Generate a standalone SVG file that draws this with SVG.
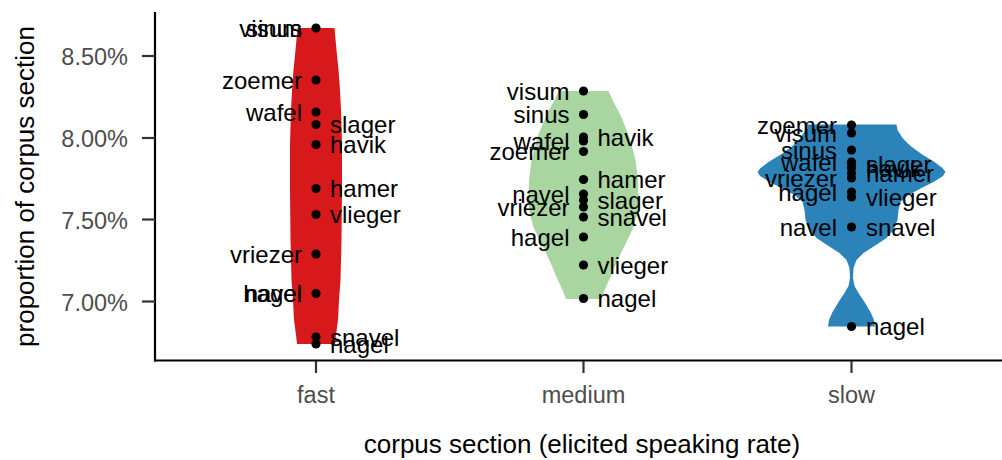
<svg xmlns="http://www.w3.org/2000/svg" width="1002" height="460" viewBox="0 0 1002 460">
<style>
text{font-family:"Liberation Sans",Arial,sans-serif}
.lab{font-size:24px;fill:#000}
.l{text-anchor:end}
.tk{font-size:23.5px;fill:#4D4D4D}
.ttl{font-size:26px;fill:#000;text-anchor:middle}
.ax{stroke:#000;stroke-width:2.2;fill:none}
.tick{stroke:#333;stroke-width:2.2}
.dot{fill:#000}
</style>
<rect width="1002" height="460" fill="#fff"/>
<g id="axes">
<line class="ax" x1="155" y1="12" x2="155" y2="361.5"/>
<line class="ax" x1="154" y1="360.5" x2="1002" y2="360.5"/>
<line class="tick" x1="142" y1="56" x2="155" y2="56"/>
<line class="tick" x1="142" y1="138" x2="155" y2="138"/>
<line class="tick" x1="142" y1="219.5" x2="155" y2="219.5"/>
<line class="tick" x1="142" y1="301.5" x2="155" y2="301.5"/>
<line class="tick" x1="316" y1="361" x2="316" y2="373"/>
<line class="tick" x1="583.5" y1="361" x2="583.5" y2="373"/>
<line class="tick" x1="851.5" y1="361" x2="851.5" y2="373"/>
<text class="tk" x="128" y="65" text-anchor="end">8.50%</text>
<text class="tk" x="128" y="147" text-anchor="end">8.00%</text>
<text class="tk" x="128" y="228.5" text-anchor="end">7.50%</text>
<text class="tk" x="128" y="310.5" text-anchor="end">7.00%</text>
<text class="tk" x="316" y="403" text-anchor="middle">fast</text>
<text class="tk" x="583.5" y="403" text-anchor="middle">medium</text>
<text class="tk" x="851.5" y="403" text-anchor="middle">slow</text>
<text class="ttl" x="582" y="453">corpus section (elicited speaking rate)</text>
<text class="ttl" transform="translate(34,186.5) rotate(-90)">proportion of corpus section</text>
</g>
<g id="fast">
<polygon fill="#D7191C" points="297.5,28 334.5,28 336.5,50 338.5,70 340,90 341,110 342,143 342,190 341.5,240 340.5,280 339,300 338,320 336,335 335,344 297,344 296,335 294,320 293,300 291.5,280 290.5,240 290,190 290,143 291,110 292,90 293.5,70 295.5,50"/>
<g class="dot">
<circle cx="316" cy="28" r="4.6"/><circle cx="316" cy="80" r="4.6"/><circle cx="316" cy="112" r="4.6"/><circle cx="316" cy="124.5" r="4.6"/><circle cx="316" cy="144.5" r="4.6"/><circle cx="316" cy="188.5" r="4.6"/><circle cx="316" cy="214.5" r="4.6"/><circle cx="316" cy="254" r="4.6"/><circle cx="316" cy="293.5" r="4.6"/><circle cx="316" cy="337" r="4.6"/><circle cx="316" cy="344" r="4.6"/>
</g>
<text class="lab l" x="302" y="36.5">visum</text>
<text class="lab l" x="302" y="36.5">sinus</text>
<text class="lab l" x="302" y="88.5">zoemer</text>
<text class="lab l" x="302" y="120.5">wafel</text>
<text class="lab l" x="302" y="262.5">vriezer</text>
<text class="lab l" x="302" y="302">hagel</text>
<text class="lab l" x="302" y="302">navel</text>
<text class="lab" x="330" y="133">slager</text>
<text class="lab" x="330" y="153">havik</text>
<text class="lab" x="330" y="197">hamer</text>
<text class="lab" x="330" y="223">vlieger</text>
<text class="lab" x="330" y="345.5">snavel</text>
<text class="lab" x="330" y="352.5">nagel</text>
</g>
<g id="medium">
<polygon fill="#A8D5A0" points="558.5,91 608.5,91 612.5,100 620.5,115 629.5,137 635.5,160 638,180 638.5,203 637,215 633.5,227 627.5,240 621,253 615.5,265 610.5,277 604.5,290 601,299 566,299 562.5,290 556.5,277 551.5,265 546,253 539.5,240 533.5,227 530,215 528.5,203 529,180 531.5,160 537.5,137 546.5,115 554.5,100"/>
<g class="dot">
<circle cx="583.5" cy="91" r="4.6"/><circle cx="583.5" cy="114.5" r="4.6"/><circle cx="583.5" cy="137" r="4.6"/><circle cx="583.5" cy="141" r="4.6"/><circle cx="583.5" cy="151.5" r="4.6"/><circle cx="583.5" cy="179.5" r="4.6"/><circle cx="583.5" cy="194" r="4.6"/><circle cx="583.5" cy="200" r="4.6"/><circle cx="583.5" cy="207" r="4.6"/><circle cx="583.5" cy="217" r="4.6"/><circle cx="583.5" cy="237" r="4.6"/><circle cx="583.5" cy="265" r="4.6"/><circle cx="583.5" cy="298.5" r="4.6"/>
</g>
<text class="lab l" x="569.5" y="99.5">visum</text>
<text class="lab l" x="569.5" y="123">sinus</text>
<text class="lab l" x="569.5" y="149.5">wafel</text>
<text class="lab l" x="569.5" y="160">zoemer</text>
<text class="lab l" x="569.5" y="202.5">navel</text>
<text class="lab l" x="569.5" y="215.5">vriezer</text>
<text class="lab l" x="569.5" y="245.5">hagel</text>
<text class="lab" x="597.5" y="145.5">havik</text>
<text class="lab" x="597.5" y="188">hamer</text>
<text class="lab" x="597.5" y="208.5">slager</text>
<text class="lab" x="597.5" y="225.5">snavel</text>
<text class="lab" x="597.5" y="273.5">vlieger</text>
<text class="lab" x="597.5" y="307">nagel</text>
</g>
<g id="slow">
<polygon fill="#2B83BA" points="806.5,124.5 896.5,124.5 897.5,130 902.5,138 910.5,146 921.5,154 934.5,162 942.5,168 945.5,172 943,176 933.5,182 921.5,188 908.5,195 900.5,202 898.5,210 897.5,220 893.5,230 886.5,238 874.5,246 863.5,253 856.5,260 853.5,268 853,278 854.5,286 858.5,293 864.5,302 870.5,312 874,320 875,326.5 828,326.5 829,320 832.5,312 838.5,302 844.5,293 848.5,286 850,278 849.5,268 846.5,260 839.5,253 828.5,246 816.5,238 809.5,230 805.5,220 804.5,210 802.5,202 794.5,195 781.5,188 769.5,182 760,176 757.5,172 760.5,168 768.5,162 781.5,154 792.5,146 800.5,138 805.5,130"/>
<g class="dot">
<circle cx="851.5" cy="125" r="4.6"/><circle cx="851.5" cy="133" r="4.6"/><circle cx="851.5" cy="150" r="4.6"/><circle cx="851.5" cy="162" r="4.6"/><circle cx="851.5" cy="164" r="4.6"/><circle cx="851.5" cy="168" r="4.6"/><circle cx="851.5" cy="173" r="4.6"/><circle cx="851.5" cy="178" r="4.6"/><circle cx="851.5" cy="192" r="4.6"/><circle cx="851.5" cy="197" r="4.6"/><circle cx="851.5" cy="227" r="4.6"/><circle cx="851.5" cy="326.5" r="4.6"/>
</g>
<text class="lab l" x="837" y="133.5">zoemer</text>
<text class="lab l" x="837" y="141.5">visum</text>
<text class="lab l" x="837" y="158.5">sinus</text>
<text class="lab l" x="837" y="170.5">wafel</text>
<text class="lab l" x="837" y="186.5">vriezer</text>
<text class="lab l" x="837" y="200.5">hagel</text>
<text class="lab l" x="837" y="235.5">navel</text>
<text class="lab" x="866" y="172.5">slager</text>
<text class="lab" x="866" y="176.5">havik</text>
<text class="lab" x="866" y="181.5">hamer</text>
<text class="lab" x="866" y="205.5">vlieger</text>
<text class="lab" x="866" y="235.5">snavel</text>
<text class="lab" x="866" y="335">nagel</text>
</g>
</svg>
